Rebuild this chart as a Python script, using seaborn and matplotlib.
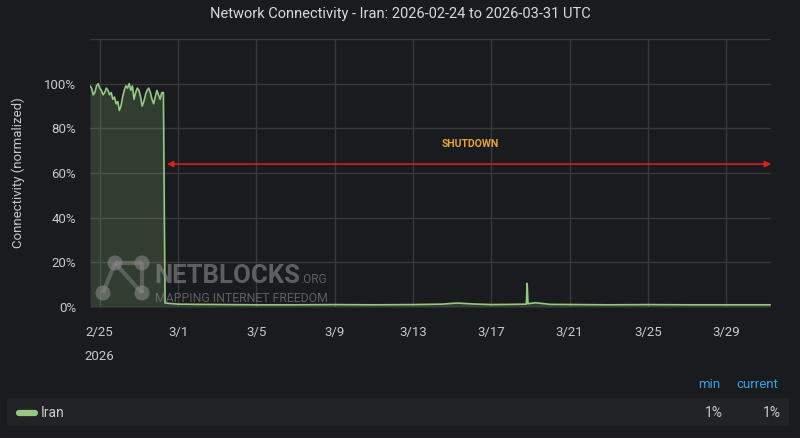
import numpy as np
import matplotlib
matplotlib.use("Agg")
import matplotlib.pyplot as plt
import matplotlib.dates as mdates
from matplotlib.patches import Circle, FancyBboxPatch
import pandas as pd
import seaborn as sns

# connectivity before the shutdown, every 2 hours from 2026-02-24 12:00
pre_start = "2026-02-24 12:00"
pre_values = [99, 98, 95, 96, 99, 100, 98, 97, 95, 96, 98, 97, 95, 96, 93, 94,
              91, 92, 88, 90, 94, 97, 99, 98, 100, 97, 99, 93, 96, 98, 97, 94,
              90, 92, 95, 97, 98, 96, 93, 91, 94, 97, 95, 93, 96, 96]

# after the shutdown (sparse points)
post_times = ["2026-02-28 08:00", "2026-02-28 14:00", "2026-03-01 00:00",
              "2026-03-02 00:00", "2026-03-03 12:00", "2026-03-05 00:00",
              "2026-03-07 00:00", "2026-03-09 00:00", "2026-03-11 00:00",
              "2026-03-13 00:00", "2026-03-14 12:00", "2026-03-15 06:00",
              "2026-03-16 00:00", "2026-03-17 00:00", "2026-03-18 00:00",
              "2026-03-18 19:00", "2026-03-18 20:00", "2026-03-18 21:00",
              "2026-03-19 06:00", "2026-03-19 12:00", "2026-03-20 00:00",
              "2026-03-21 12:00", "2026-03-23 00:00", "2026-03-25 00:00",
              "2026-03-27 00:00", "2026-03-29 00:00", "2026-03-31 06:00"]
post_values = [1.8, 1.6, 1.3, 1.2, 1.1, 1.0, 1.0, 1.1, 1.0, 1.1, 1.3, 1.8,
               1.4, 1.1, 1.2, 1.3, 10.6, 1.5, 1.9, 1.7, 1.2, 1.1, 1.0, 1.1,
               1.0, 1.0, 1.0]

tick_dates = ["2026-02-25", "2026-03-01", "2026-03-05", "2026-03-09", "2026-03-13",
              "2026-03-17", "2026-03-21", "2026-03-25", "2026-03-29"]
tick_labels = ["2/25\n2026", "3/1", "3/5", "3/9", "3/13", "3/17", "3/21", "3/25", "3/29"]
y_ticks = [0, 20, 40, 60, 80, 100, 120]

shutdown_start = "2026-02-28 10:30"
shutdown_label_at = "2026-03-15 22:00"
x_min, x_max = "2026-02-24 12:00", "2026-03-31 07:00"

pre_times = pd.date_range(pre_start, periods=len(pre_values), freq="2h")
df = pd.DataFrame({
    "time": list(pre_times) + list(pd.to_datetime(post_times)),
    "value": pre_values + post_values,
})

BG = "#1a1b1e"
GRID = "#38393d"
TXT = "#c8c9ca"
GREEN = "#96c881"

sns.set_theme(style="darkgrid")
plt.rcParams["font.family"] = ["Roboto", "DejaVu Sans"]

fig = plt.figure(figsize=(8, 4.38), dpi=100, facecolor=BG)
ax = fig.add_axes([0.1125, 0.299, 0.8513, 0.612])
ax.set_facecolor(BG)

sns.lineplot(data=df, x="time", y="value", color=GREEN, linewidth=1.2, ax=ax, zorder=3)
ax.fill_between(df["time"], df["value"], 0, color=GREEN, alpha=0.2, linewidth=0, zorder=2)

ax.set_xlim(pd.Timestamp(x_min), pd.Timestamp(x_max))
ax.set_ylim(0, 120)
ax.set_xticks(pd.to_datetime(tick_dates))
ax.set_xticklabels(tick_labels)
ax.set_yticks(y_ticks)
ax.set_yticklabels([f"{v}%" if v <= 100 else "" for v in y_ticks])
ax.grid(True, color=GRID, linewidth=1)
for s in ax.spines.values():
    s.set_visible(False)
ax.tick_params(axis="x", length=0, pad=14, labelsize=9.5, colors=TXT)
ax.tick_params(axis="y", length=0, pad=10, labelsize=9.5, colors=TXT)
ax.get_xticklabels()[0].set_linespacing(2.1)
ax.set_xlabel("")
ax.set_ylabel("Connectivity (normalized)", color=TXT, fontsize=9.5, labelpad=14)

# shutdown arrow
ax.annotate("", xy=(pd.Timestamp(x_max), 64), xytext=(pd.Timestamp(shutdown_start), 64),
            arrowprops=dict(arrowstyle="<|-|>", color="#e0201c", lw=1.1,
                            mutation_scale=9, shrinkA=0, shrinkB=0), zorder=4)
ax.text(pd.Timestamp(shutdown_label_at), 72.8, "SHUTDOWN", color="#e8a435",
        fontsize=7.5, fontweight="bold", ha="center", va="center", zorder=4)

fig.text(0.5, 1 - 14 / 438, "Network Connectivity - Iran: 2026-02-24 to 2026-03-31 UTC",
         ha="center", va="center", color="#d8d9da", fontsize=10.5)

# overlay in pixel coordinates for watermark and legend
ov = fig.add_axes([0, 0, 1, 1], zorder=5)
ov.set_xlim(0, 800)
ov.set_ylim(438, 0)
ov.axis("off")
ov.patch.set_alpha(0)

wm = "#8c8c8c"
nodes = [(115, 263), (142, 263), (103, 293), (142, 293)]
for a, b in [(0, 1), (0, 2), (0, 3), (1, 3)]:
    ov.plot([nodes[a][0], nodes[b][0]], [nodes[a][1], nodes[b][1]], color=wm,
            alpha=0.45, lw=3, solid_capstyle="butt")
for x, y in nodes:
    ov.add_patch(Circle((x, y), 7.5, color=wm, alpha=0.55, lw=0))
ov.text(154, 283, "NETBLOCKS", color=wm, alpha=0.6, fontsize=18.5, fontweight="bold",
        ha="left", va="baseline")
ov.text(300, 283, ".ORG", color=wm, alpha=0.6, fontsize=8.5, ha="left", va="baseline")
ov.text(155, 302, "MAPPING INTERNET FREEDOM", color=wm, alpha=0.6, fontsize=8.8,
        ha="left", va="baseline")

# legend table
ov.add_patch(FancyBboxPatch((7, 398), 782, 28, boxstyle="round,pad=0,rounding_size=2",
                            facecolor="#222326", edgecolor="none"))
ov.text(709, 384, "min", color="#33a2e5", fontsize=9.5, ha="center", va="center")
ov.text(757, 384, "current", color="#33a2e5", fontsize=9.5, ha="center", va="center")
ov.plot([19, 35], [413, 413], color=GREEN, lw=4.5, solid_capstyle="round")
ov.text(41, 413, "Iran", color=TXT, fontsize=10, ha="left", va="center")
ov.text(723, 413, "1%", color=TXT, fontsize=10, ha="right", va="center")
ov.text(781, 413, "1%", color=TXT, fontsize=10, ha="right", va="center")

fig.savefig("out.png", dpi=100, facecolor=BG)
